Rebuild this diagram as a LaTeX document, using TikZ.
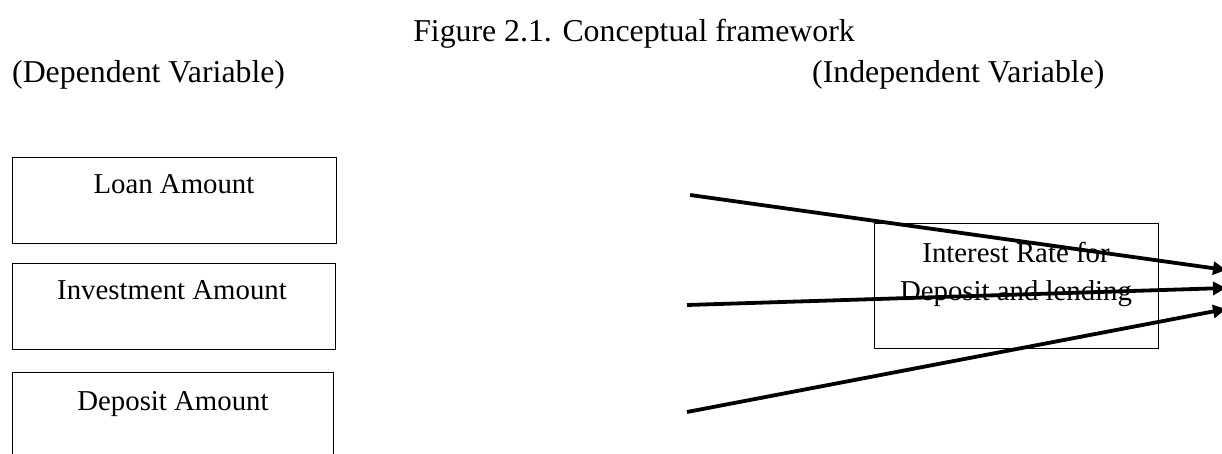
\documentclass[tikz,border=0pt]{standalone}
\usepackage{fontspec}
\setmainfont{Liberation Serif}
\usetikzlibrary{arrows.meta}
\begin{document}
\begin{tikzpicture}[x=1pt,y=-1pt,
  box/.style={draw=black, line width=1.3pt, rectangle, inner sep=0pt, anchor=north west},
  lbl/.style={inner sep=0pt, font=\fontsize{28.8}{34}\selectfont, anchor=base},
  head/.style={inner sep=0pt, font=\fontsize{31.8}{38}\selectfont},
  arr/.style={line width=3.8pt, -{Triangle[length=13pt,width=13pt]}}]
\useasboundingbox (0,0) rectangle (1222,454);
\clip (0,0) rectangle (1222,454);
\fill[white] (0,0) rectangle (1222,454);
% titles
\node[head, anchor=base east] (title) at (855,42) {Figure 2.1. Conceptual framework};
\node[head, anchor=base west] (dep) at (12,83) {(Dependent Variable)};
\node[head, anchor=base west] (indep) at (812,83) {(Independent Variable)};
% left boxes
\node[box, minimum width=324pt, minimum height=86pt] (loan) at (12,157) {};
\node[lbl] (loant) at (174,194) {Loan Amount};
\node[box, minimum width=323pt, minimum height=86pt] (inv) at (12,263) {};
\node[lbl] (invt) at (172,299) {Investment Amount};
\node[box, minimum width=321pt, minimum height=110pt] (depb) at (12,372) {};
\node[lbl] (dept) at (173,410) {Deposit Amount};
% right box
\node[box, minimum width=284pt, minimum height=125pt] (ir) at (874,223) {};
\node[lbl] (irt1) at (1016,262) {Interest Rate for};
\node[lbl] (irt2) at (1016,300) {Deposit and lending};
% arrows
\coordinate (s1) at (690,195);
\coordinate (s2) at (687,305);
\coordinate (s3) at (687,412);
\coordinate (e1) at (1226,270);
\coordinate (e2) at (1226,288);
\coordinate (e3) at (1226,309);
\draw[arr] (s1) -- (e1);
\draw[arr] (s2) -- (e2);
\draw[arr] (s3) -- (e3);
\end{tikzpicture}
\end{document}
